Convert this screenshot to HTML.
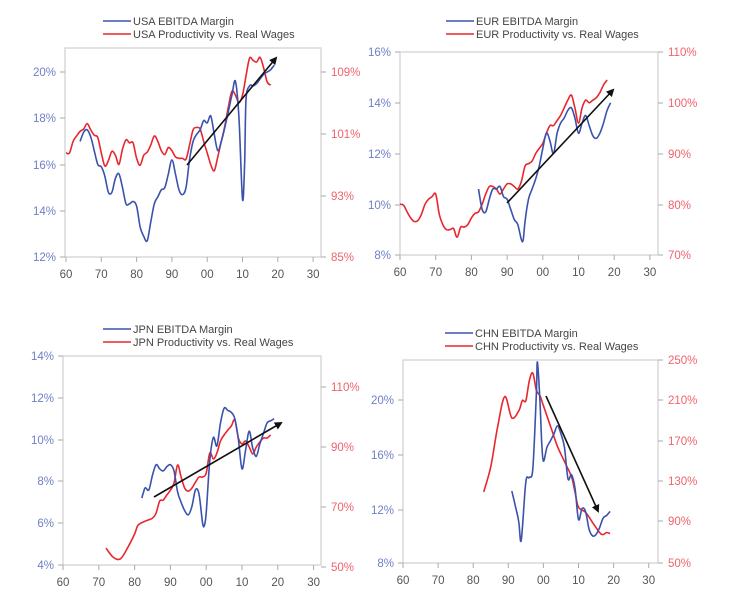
<!DOCTYPE html><html><head><meta charset="utf-8"><style>body{margin:0;background:#fff}svg{display:block}text{font-family:"Liberation Sans",sans-serif}</style></head><body>
<svg id="s" width="749" height="614" xmlns="http://www.w3.org/2000/svg">
<defs><marker id="ah" markerWidth="8" markerHeight="8" refX="6" refY="4" orient="auto" markerUnits="userSpaceOnUse"><path d="M0,0 L8,4 L0,8 z" fill="#111"/></marker></defs>
</svg>
<script>
const S=document.getElementById('s');const NS='http://www.w3.org/2000/svg';
function el(t,a,txt){const e=document.createElementNS(NS,t);for(const k in a)e.setAttribute(k,a[k]);if(txt!==undefined)e.textContent=txt;S.appendChild(e);return e;}
const BL='#3b52ad',RD='#e8262e',BLT='#6f7fc6',RDT='#f0636c';
function smooth(pts){let d='M'+pts[0][0].toFixed(1)+','+pts[0][1].toFixed(1);
 for(let i=0;i<pts.length-1;i++){const p0=pts[i-1]||pts[i],p1=pts[i],p2=pts[i+1],p3=pts[i+2]||p2;
  const c1=[p1[0]+(p2[0]-p0[0])/6,p1[1]+(p2[1]-p0[1])/6],c2=[p2[0]-(p3[0]-p1[0])/6,p2[1]-(p3[1]-p1[1])/6];
  d+=' C'+c1.map(v=>v.toFixed(1))+' '+c2.map(v=>v.toFixed(1))+' '+p2.map(v=>v.toFixed(1));}
 return d;}
function chart(c){
 const {L,R,T,B,x60,dec}=c;
 el('rect',{x:L,y:T,width:R-L,height:B-T,fill:'none',stroke:'#cfcfcf','stroke-width':1.2});
 for(let i=0;i<=7;i++){const x=x60+i*dec;el('line',{x1:x,y1:B,x2:x,y2:B+5,stroke:'#aaa'});
  el('text',{x:x,y:B+21,'text-anchor':'middle','font-size':11.5,fill:'#555'},['60','70','80','90','00','10','20','30'][i]);}
 c.ly.forEach(([v,y])=>{el('line',{x1:L-5,y1:y,x2:L,y2:y,stroke:'#aaa'});el('text',{x:L-9,y:y+4,'text-anchor':'end','font-size':11.5,fill:BLT},v);});
 c.ry.forEach(([v,y])=>{el('line',{x1:R,y1:y,x2:R+5,y2:y,stroke:'#aaa'});el('text',{x:R+10,y:y+4,'font-size':11.5,fill:RDT},v);});
 const X=yr=>x60+((yr<50?yr+100:yr)-60)/10*dec;
 const path=(d,s)=>smooth(d.map(p=>[X(p[0]),s(p[1])]));
 el('path',{d:path(c.red,c.rs),fill:'none',stroke:RD,'stroke-width':1.6,'stroke-linejoin':'round'});
 el('path',{d:path(c.blue,c.ls),fill:'none',stroke:BL,'stroke-width':1.6,'stroke-linejoin':'round'});
 const a=c.arrow;el('line',{x1:a[0],y1:a[1],x2:a[2],y2:a[3],stroke:'#111','stroke-width':1.6,'marker-end':'url(#ah)'});
 const g=c.leg;el('line',{x1:g[0],y1:g[1],x2:g[0]+28,y2:g[1],stroke:BL,'stroke-width':1.6});
 el('line',{x1:g[0],y1:g[1]+13,x2:g[0]+28,y2:g[1]+13,stroke:RD,'stroke-width':1.6});
 el('text',{x:g[0]+30,y:g[1]+4,'font-size':11,fill:'#444'},c.n+' EBITDA Margin');
 el('text',{x:g[0]+30,y:g[1]+17,'font-size':11,fill:'#444'},c.n+' Productivity vs. Real Wages');
}
const lin=(v0,y0,v1,y1)=>v=>y0+(v-v0)*(y1-y0)/(v1-v0);
const P=s=>s.trim().split(/\s+/).map(t=>t.split(':').map(Number));
chart({n:'USA',L:65,R:321,T:48,B:257,x60:66,dec:35.3,
 ly:[['20%',72],['18%',118],['16%',165],['14%',211],['12%',257]],
 ry:[['109%',72],['101%',134],['93%',196],['85%',257]],
 ls:lin(12,257,20,72),rs:lin(85,257,109,72),arrow:[187,165,276,58],leg:[103,21],
 blue:P('64:17.0 65:17.4 66:17.5 67:17.2 68:16.6 69:16.0 70:15.9 71:15.5 72:14.8 73:14.8 74:15.4 75:15.6 76:15.0 77:14.3 78:14.3 79:14.4 80:14.2 81:13.3 82:12.9 83:12.7 84:13.5 85:14.3 86:14.6 87:14.9 88:15.0 89:15.6 90:16.2 91:15.6 92:14.9 93:14.7 94:15.0 95:16.2 96:17.0 97:17.3 98:17.5 99:17.9 100:17.8 101:18.1 102:17.3 103:16.6 104:17.0 105:17.6 106:18.3 107:19.0 108:19.6 109:18.0 110:14.5 110.6:16 111:18.8 112:19.4 113:19.4 114:19.5 115:19.7 116:19.9 117:20.0 118:20.1 119:20.3'),
 red:P('60:98.5 61:98.5 62:100 63:100.7 64:101.3 65:101.6 66:102.3 67:101.5 68:100.8 69:100.5 70:98.5 71:96.8 72:97.5 73:98.7 74:98.2 75:97.0 76:99 77:100.2 78:99.8 79:99.8 80:97.8 81:96.9 82:98.2 83:98.6 84:99.5 85:100.7 86:100 87:98.8 88:98.3 89:99.2 90:98.8 91:98 92:97.8 93:97.8 94:97.7 95:99.5 96:101.5 97:101.8 98:101.6 99:100 100:98.5 101:97 102:96.2 103:98 104:100 105:102 106:104.5 107:106.5 108:106 109:105 110:106 111:108.5 112:110.8 113:110.5 114:110.3 115:110.9 116:109.5 117:107.7 118:107.3')});
chart({n:'EUR',L:400,R:658,T:52,B:255,x60:400,dec:35.7,
 ly:[['16%',52],['14%',103],['12%',154],['10%',205],['8%',255]],
 ry:[['110%',52],['100%',103],['90%',154],['80%',205],['70%',255]],
 ls:lin(8,255,16,52),rs:lin(70,255,110,52),arrow:[507,203,613,90],leg:[446,21],
 blue:P('82:10.6 83:9.8 84:9.7 85:10.2 86:10.6 87:10.6 88:10.7 89:10.3 90:10.2 91:9.8 92:9.4 93:9.2 94:8.6 94.5:8.6 95:9.3 96:10.2 97:10.6 98:11 99:11.5 100:12.2 101:12.8 102:12.5 103:12.0 104:12.8 105:13.2 106:13.4 107:13.7 108:13.8 109:13.4 110:12.8 111:13.2 112:13.5 113:13.1 114:12.7 115:12.6 116:12.8 117:13.2 118:13.7 119:14.0'),
 red:P('60:80 61:79.8 62:78.5 63:77.3 64:76.6 65:76.8 66:78 67:80 68:81 69:81.5 70:82 71:78 72:76 73:75 74:75 75:75.2 76:73.5 77:75.5 78:75.5 79:76 80:77.3 81:78.2 82:78.5 83:80 84:82 85:83.5 86:83.5 87:83 88:82 89:83 90:84 91:84 92:83.5 93:83 94:84.5 95:87.5 96:88 97:88.5 98:90 99:91 100:92 101:94 102:95.5 103:95.5 104:96.5 105:97.5 106:99 107:100.5 108:101.5 109:99 110:96 111:99 112:100.5 113:100 114:100.5 115:101 116:102 117:103.5 118:104.5')});
chart({n:'JPN',L:63,R:321,T:356,B:565,x60:63,dec:35.8,
 ly:[['14%',356],['12%',398],['10%',440],['8%',481],['6%',523],['4%',565]],
 ry:[['110%',387],['90%',447],['70%',507],['50%',567]],
 ls:lin(4,565,14,356),rs:lin(50,567,110,387),arrow:[154,497,281,423],leg:[103,329],
 blue:P('82:7.2 82.5:7.5 83:7.7 84:7.6 85:8.3 86:8.8 87:8.6 88:8.5 89:8.7 90:8.8 91:8.5 92:7.5 93:7.0 94:6.6 95:6.4 96:6.8 97:7.6 98:7.4 99:6.0 99.5:5.9 100:6.5 101:9.0 102:10.1 103:9.7 104:10.8 105:11.5 106:11.4 107:11.3 108:11.0 109:10 110:8.6 111:9.5 112:10.4 113:9.6 114:9.2 115:9.8 116:10.3 117:10.8 118:10.9 119:11.0'),
 red:P('72:56.3 74:53.3 76:52.7 78:56.3 80:61 81:64 83:65.3 85:66.3 86:68 87:72 88:72.3 89:74 90:75.6 91:78 92:84 93:80 94:76.3 95:75.3 96:76.3 97:78.3 98:80 99:80 100:81.3 101:88 102:86 103:88 104:92 105:94 106:95.6 107:97 108:99 109:93 110:91 111:92 112:90 113:87.7 114:90 115:91.7 116:93 117:93 118:94')});
chart({n:'CHN',L:403,R:658,T:360,B:563,x60:403,dec:35.1,
 ly:[['20%',400],['16%',455],['12%',510],['8%',563]],
 ry:[['250%',360],['210%',400],['170%',441],['130%',481],['90%',521],['50%',563]],
 ls:lin(8,563,20,400),rs:lin(50,563,250,360),arrow:[546,396,598,511],leg:[445,333],
 blue:P('91:13.3 92:12.2 93:11.0 93.5:9.6 94:10.5 95:14.0 96:14.3 97:15.0 98:20.5 98.3:22.8 99:20 99.5:17 100:15.5 101:16.5 102:17 103:17.5 104:18.1 105:17.5 106:16.5 107:14.2 108:14.5 109:13.5 110:11.2 111:12 112:11.8 113:10.5 114:10 115:10.1 116:10.6 117:11.3 118:11.5 119:11.8'),
 red:P('83:120 85:145 87:185 89:214 91:193 93:200 94:210 95:210 96:230 97:237 98:220 99:215 100:205 102:185 104:165 106:150 108:135 109:120 110:105 112:100 114:90 116:80 117:78 118:80 119:79')});
</script></body></html>
